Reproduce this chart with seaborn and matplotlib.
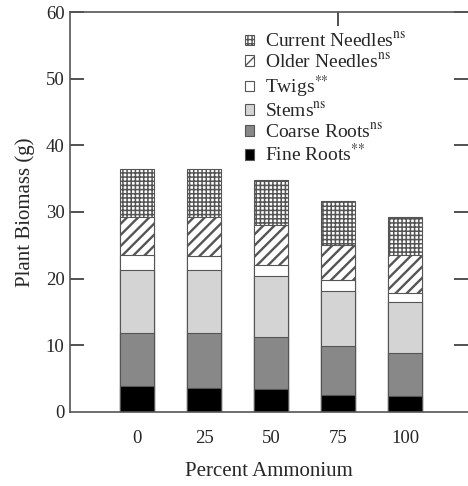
import matplotlib
matplotlib.use("Agg")
import matplotlib.pyplot as plt
from matplotlib.patches import Patch
import numpy as np
import pandas as pd
import seaborn as sns

# ---- data ----
categories = ["0", "25", "50", "75", "100"]
fine_roots = [3.9, 3.55, 3.4, 2.55, 2.45]
coarse_roots = [7.9, 8.25, 7.8, 7.35, 6.35]
stems = [9.55, 9.45, 9.15, 8.2, 7.7]
twigs = [2.15, 2.15, 1.75, 1.65, 1.35]
older_needles = [5.8, 5.9, 6.0, 5.35, 5.65]
current_needles = [7.1, 7.1, 6.7, 6.6, 5.7]

components = ["Fine Roots", "Coarse Roots", "Stems", "Twigs", "Older Needles", "Current Needles"]
legend_labels = {
    "Current Needles": r"Current Needles$^{\mathrm{ns}}$",
    "Older Needles": r"Older Needles$^{\mathrm{ns}}$",
    "Twigs": r"Twigs$^{{*}{*}}$",
    "Stems": r"Stems$^{\mathrm{ns}}$",
    "Coarse Roots": r"Coarse Roots$^{\mathrm{ns}}$",
    "Fine Roots": r"Fine Roots$^{{*}{*}}$",
}
values = [fine_roots, coarse_roots, stems, twigs, older_needles, current_needles]

styles = {
    "Fine Roots": dict(color="#000000", hatch=None),
    "Coarse Roots": dict(color="#888888", hatch=None),
    "Stems": dict(color="#d4d4d4", hatch=None),
    "Twigs": dict(color="#ffffff", hatch=None),
    "Older Needles": dict(color="#ffffff", hatch="///"),
    "Current Needles": dict(color="#ffffff", hatch="++++"),
}

rows = []
for comp, vals in zip(components, values):
    for cat, v in zip(categories, vals):
        rows.append(dict(category=cat, component=comp, value=v))
df = pd.DataFrame(rows)
df["cum"] = df.groupby("category")["value"].cumsum()

# ---- style ----
sns.set_theme(style="white")
plt.rcParams["font.family"] = ["Liberation Serif", "DejaVu Serif"]
plt.rcParams["mathtext.fontset"] = "stix"

fig = plt.figure(figsize=(4.68, 4.86), dpi=100)
ax = fig.add_axes([0.1496, 0.1523, 0.8504, 0.8230])

def hatch_lw(comp):
    return 1.7 if comp == "Older Needles" else 1.1

for comp in reversed(components):
    st = styles[comp]
    sub = df[df["component"] == comp]
    with plt.rc_context({"hatch.linewidth": hatch_lw(comp), "hatch.color": "black"}):
        sns.barplot(data=sub, x="category", y="cum", order=categories,
                    color=st["color"], saturation=1, width=0.5,
                    edgecolor="#555555", linewidth=0.8,
                    hatch=st["hatch"], ax=ax, errorbar=None)

ax.set_xlim(-1.0, 4.94)
ax.set_ylim(0, 60)
ax.set_yticks([0, 10, 20, 30, 40, 50, 60])
ax.set_xlabel("Percent Ammonium", fontsize=15, labelpad=11)
ax.set_ylabel("Plant Biomass (g)", fontsize=15, labelpad=8)

for side in ["left", "bottom", "top"]:
    ax.spines[side].set_color("#555555")
    ax.spines[side].set_linewidth(1.2)
ax.spines["right"].set_visible(False)

ax.tick_params(axis="y", which="major", direction="in", length=10, width=1.2,
               color="#333333", left=True, right=True, labelsize=13.5, pad=4)
ax.tick_params(axis="x", which="major", length=0, labelsize=13.5, pad=13)
for t in ax.yaxis.get_major_ticks():
    if t.get_loc() in (0, 60):
        t.tick1line.set_visible(False)
        t.tick2line.set_visible(False)

# a single top tick mark
sec = ax.secondary_xaxis("top")
sec.set_xticks([3])
sec.set_xticklabels([])
sec.tick_params(direction="in", length=10, width=1.2, color="#333333")
sec.spines["top"].set_visible(False)

handles = []
for comp in reversed(components):
    st = styles[comp]
    with plt.rc_context({"hatch.linewidth": hatch_lw(comp)}):
        handles.append(Patch(facecolor=st["color"], edgecolor="#555555",
                             hatch=st["hatch"], linewidth=0.8,
                             label=legend_labels[comp]))
ax.legend(handles=handles, loc="upper left", bbox_to_anchor=(0.42, 0.97),
          frameon=False, fontsize=14, handlelength=0.45, handleheight=0.45,
          handletextpad=0.6, labelspacing=0.1, borderaxespad=0)

fig.savefig("out.png", dpi=100)
